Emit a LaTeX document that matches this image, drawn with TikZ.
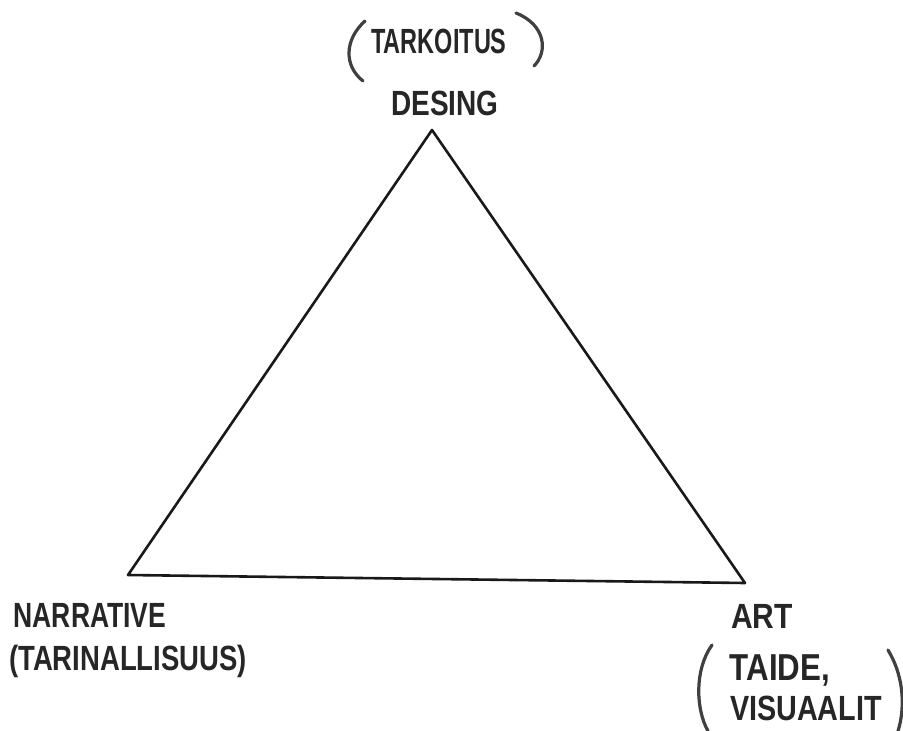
\documentclass[tikz,border=0pt]{standalone}
\usepackage{fontspec}
\setmainfont{Liberation Sans}
\begin{document}
\begin{tikzpicture}[x=1pt,y=-1pt,
  lab/.style={inner sep=0pt, font=\bfseries\fontsize{25}{25}\selectfont, text=black!85},
  edge/.style={line width=2.6pt, black!90, line join=round},
  paren/.style={line width=3.2pt, black!75, line cap=round}]
\useasboundingbox (0,0) rectangle (903,731);
\fill[white] (0,0) rectangle (903,731);
% triangle
\coordinate (top) at (432,130);
\coordinate (bl) at (128,575);
\coordinate (br) at (745,583);
\draw[edge] (top) -- (bl) -- (br) -- cycle;
% labels
\node[lab] (tark) at (439,41) {\scalebox{0.94}[1.4]{TARKOITUS}};
\node[lab] (desing) at (445,103) {\scalebox{1.12}[1.4]{DESING}};
\node[lab] (narr) at (90,615) {\scalebox{1.06}[1.4]{NARRATIVE}};
\node[lab] (tarin) at (128,661) {\scalebox{1.1}[1.4]{(TARINALLISUUS)}};
\node[lab] (art) at (762,616) {\scalebox{1.2}[1.4]{ART}};
\node[lab] (taide) at (780,670) {\scalebox{1.25}[1.5]{TAIDE,}};
\node[lab] (visu) at (806,708) {\scalebox{1.15}[1.4]{VISUAALIT}};
% hand-drawn parentheses
\draw[paren] (365,21) .. controls (344,40) and (344,66) .. (363,81);
\draw[paren] (516,13) .. controls (546,25) and (548,52) .. (534,66);
\draw[paren] (712,645) .. controls (694,670) and (696,710) .. (708,731);
\draw[paren] (888,650) .. controls (906,680) and (904,712) .. (898,731);
\end{tikzpicture}
\end{document}
